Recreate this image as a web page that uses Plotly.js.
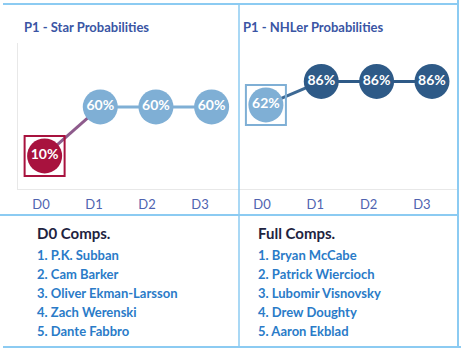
<!DOCTYPE html>
<html><head><meta charset="utf-8">
<script src="https://cdn.plot.ly/plotly-3.0.1.min.js"></script>
<style>html,body{margin:0;padding:0;background:#fff}#chart{width:461px;height:353px}</style>
</head><body><div id="chart"></div>
<script>
// ---- data ----
const categories = ['D0', 'D1', 'D2', 'D3'];
const starProb = [10, 60, 60, 60];
const nhlerProb = [62, 86, 86, 86];
const panelTitles = ['P1 - Star Probabilities', 'P1 - NHLer Probabilities'];
const compTitles = ['D0 Comps.', 'Full Comps.'];
const d0Comps = ['P.K. Subban', 'Cam Barker', 'Oliver Ekman-Larsson', 'Zach Werenski', 'Dante Fabbro'];
const fullComps = ['Bryan McCabe', 'Patrick Wiercioch', 'Lubomir Visnovsky', 'Drew Doughty', 'Aaron Ekblad'];

// ---- styling helpers ----
const W = 461, H = 353;
const px = x => x / W, py = y => 1 - y / H;
const RED = '#A8123E', LIGHT = '#7FAFD5', DARK = '#2E5A87', PURPLE = '#8E5B8C', MID = '#3D6994';
const BORDER = '#8CCBF2';
const FONT = 'Lato, "Open Sans", sans-serif';
const pct = v => v + '%';
const idx = categories.map((c, i) => i);

function lineSeg(xs, ys, color, xa, ya) {
  return {x: xs, y: ys, xaxis: xa, yaxis: ya, mode: 'lines', line: {color: color, width: 3}, hoverinfo: 'skip', showlegend: false};
}
function highlight(x, y, color, xa, ya) {
  return {x: [x], y: [y], xaxis: xa, yaxis: ya, mode: 'markers', showlegend: false, hoverinfo: 'skip',
    marker: {symbol: 'square-open', size: 40, color: color, line: {width: 2, color: color}}};
}
function points(ys, colors, xa, ya) {
  return {x: idx, y: ys, xaxis: xa, yaxis: ya, mode: 'markers+text', showlegend: false,
    text: ys.map(pct), textposition: 'middle center',
    textfont: {family: FONT, size: 14, color: '#ffffff', weight: 'bold'},
    marker: {size: 35, color: colors, line: {width: 0}}};
}
// invisible carrier so the tick-label axes get drawn
function tickCarrier(xa, ya) {
  return {x: idx, y: idx.map(() => null), xaxis: xa, yaxis: ya, mode: 'markers', showlegend: false,
    hoverinfo: 'skip', marker: {opacity: 0}};
}

const data = [
  lineSeg(idx.slice(0, 2), starProb.slice(0, 2), PURPLE, 'x', 'y'),
  lineSeg(idx.slice(1), starProb.slice(1), LIGHT, 'x', 'y'),
  highlight(idx[0], starProb[0], RED, 'x', 'y'),
  points(starProb, [RED, LIGHT, LIGHT, LIGHT], 'x', 'y'),
  lineSeg(idx.slice(0, 2), nhlerProb.slice(0, 2), MID, 'x2', 'y2'),
  lineSeg(idx.slice(1), nhlerProb.slice(1), DARK, 'x2', 'y2'),
  highlight(idx[0], nhlerProb[0], LIGHT, 'x2', 'y2'),
  points(nhlerProb, [LIGHT, DARK, DARK, DARK], 'x2', 'y2'),
  tickCarrier('x3', 'y'),
  tickCarrier('x4', 'y2')
];

const yRange = [-23.8, 125.2];
const yDom = [py(189), py(43)];
const tickFont = {family: FONT, size: 13, color: '#4F63B0'};
const hidden = {showgrid: false, zeroline: false, showticklabels: false, ticks: ''};

const layout = {
  width: W, height: H,
  margin: {l: 0, r: 0, t: 0, b: 0},
  paper_bgcolor: '#ffffff', plot_bgcolor: 'rgba(0,0,0,0)',
  showlegend: false,
  xaxis: Object.assign({}, hidden, {domain: [px(18), px(240)], range: [-0.478, 3.51], anchor: 'y',
    showline: true, linecolor: '#e8e8e8', linewidth: 1}),
  yaxis: Object.assign({}, hidden, {domain: yDom, range: yRange, anchor: 'x',
    showline: true, linecolor: '#e8e8e8', linewidth: 1}),
  xaxis2: Object.assign({}, hidden, {domain: [px(240), px(458)], range: [-0.468, 3.47], anchor: 'y2',
    showline: true, linecolor: '#e8e8e8', linewidth: 1}),
  yaxis2: Object.assign({}, hidden, {domain: yDom, range: yRange, anchor: 'x2'}),
  // tick-label axes (Tableau draws labels slightly offset from marks)
  xaxis3: {overlaying: 'x', anchor: 'y', side: 'bottom', type: 'linear', range: [-0.434, 3.755], showgrid: false, zeroline: false,
    tickmode: 'array', tickvals: idx, ticktext: categories, tickfont: tickFont, ticks: '', showticklabels: true, ticklabelstandoff: 6},
  xaxis4: {overlaying: 'x2', anchor: 'y2', side: 'bottom', type: 'linear', range: [-0.413, 3.677], showgrid: false, zeroline: false,
    tickmode: 'array', tickvals: idx, ticktext: categories, tickfont: tickFont, ticks: '', showticklabels: true, ticklabelstandoff: 6},
  shapes: [
    {type: 'line', xref: 'paper', yref: 'paper', x0: px(3), x1: px(458), y0: py(4), y1: py(4), line: {color: BORDER, width: 2}},
    {type: 'line', xref: 'paper', yref: 'paper', x0: px(0), x1: px(458), y0: py(215), y1: py(215), line: {color: BORDER, width: 2}},
    {type: 'line', xref: 'paper', yref: 'paper', x0: px(3), x1: px(461), y0: py(347), y1: py(347), line: {color: BORDER, width: 2}},
    {type: 'line', xref: 'paper', yref: 'paper', x0: px(239), x1: px(239), y0: py(4), y1: py(347), line: {color: BORDER, width: 1.5}},
    {type: 'line', xref: 'paper', yref: 'paper', x0: px(458), x1: px(458), y0: py(0), y1: py(346), line: {color: BORDER, width: 2}}
  ],
  annotations: []
};

// panel titles
[[22, panelTitles[0]], [241, panelTitles[1]]].forEach(([x, t]) => {
  layout.annotations.push({xref: 'paper', yref: 'paper', x: px(x), y: py(27), xanchor: 'left', yanchor: 'middle',
    text: '<b>' + t + '</b>', showarrow: false, font: {family: FONT, size: 13, color: '#3A55A4'}});
});
// comps lists
[[35, compTitles[0], d0Comps], [256, compTitles[1], fullComps]].forEach(([x, t, list]) => {
  layout.annotations.push({xref: 'paper', yref: 'paper', x: px(x), y: py(233), xanchor: 'left', yanchor: 'middle',
    text: t, showarrow: false, font: {family: FONT, size: 15, color: '#1E2340', weight: 'bold'}});
  list.forEach((name, i) => {
    layout.annotations.push({xref: 'paper', yref: 'paper', x: px(x), y: py(255 + 19 * i), xanchor: 'left', yanchor: 'middle',
      text: '<b>' + (i + 1) + '. ' + name + '</b>', showarrow: false, font: {family: FONT, size: 13, color: '#2A7BC8'}});
  });
});

Plotly.newPlot('chart', data, layout, {displayModeBar: false, staticPlot: true});
</script></body></html>
